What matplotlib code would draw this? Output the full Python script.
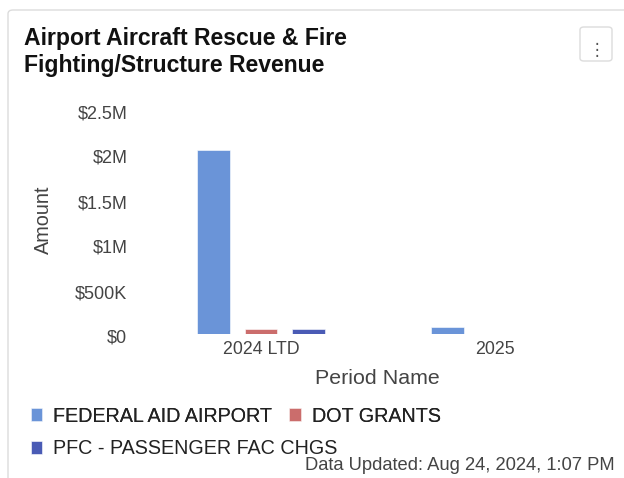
import matplotlib
matplotlib.use("Agg")
import matplotlib.pyplot as plt
import matplotlib.transforms as mtransforms
import numpy as np
from matplotlib.patches import FancyBboxPatch
from matplotlib.ticker import FuncFormatter

plt.rcParams['font.family'] = ['Liberation Sans', 'DejaVu Sans']

periods = ["2024 LTD", "2025"]
series_names = ["FEDERAL AID AIRPORT", "DOT GRANTS", "PFC - PASSENGER FAC CHGS"]
federal_aid = [2040000, 75000]
dot_grants = [52000, 0]
pfc_chgs = [52000, 0]
series_values = [federal_aid, dot_grants, pfc_chgs]
colors = ["#6a94d8", "#cb6d6c", "#4a5bb5"]
yticks = [0, 500000, 1000000, 1500000, 2000000, 2500000]
title = "Airport Aircraft Rescue & Fire\nFighting/Structure Revenue"
updated = "Data Updated: Aug 24, 2024, 1:07 PM"

W, H = 624, 478
fig = plt.figure(figsize=(W / 100, H / 100), dpi=100)

# card border
card = FancyBboxPatch((8 / W, -20 / H), 700 / W, (H - 10 + 20) / H,
                      boxstyle="round,pad=0,rounding_size=0.008",
                      transform=fig.transFigure, facecolor="white",
                      edgecolor="#dcdcdc", linewidth=1.0, zorder=-10)
fig.patches.append(card)

# menu button
btn = FancyBboxPatch((580 / W, 1 - 61 / H), 32 / W, 34 / H,
                     boxstyle="round,pad=0,rounding_size=0.006",
                     transform=fig.transFigure, facecolor="white",
                     edgecolor="#dcdcdc", linewidth=1.0, zorder=-5)
fig.patches.append(btn)
fig.text(596.5 / W, 1 - 50 / H, "⋮", ha="center", va="center", fontsize=12,
         color="#555555", family="DejaVu Sans")

fig.text(24 / W, 1 - 27 / H, title, ha="left", va="top", fontsize=16.6,
         fontweight="bold", color="#111111", linespacing=1.22)

left, right = 144 / W, 612 / W
bottom, top = 1 - 334 / H, 1 - 109 / H
ax = fig.add_axes([left, bottom, right - left, top - bottom])
ax.patch.set_alpha(0)

x = np.arange(len(periods))
width = 0.141
step = 0.2009
bars = []
for i, (name, vals, c) in enumerate(zip(series_names, series_values, colors)):
    b = ax.bar(x + (i - 1) * step, vals, width, color=c, label=name,
               edgecolor="white", linewidth=0.4)
    bars.append(b)

ax.set_xlim(-0.5, 1.5)
ax.set_ylim(0, 2500000)
ax.set_yticks(yticks)


def fmt(v, pos):
    if v == 0:
        return "$0"
    if v >= 1e6:
        s = f"{v / 1e6:g}"
        return f"${s}M"
    return f"${v / 1e3:g}K"


ax.yaxis.set_major_formatter(FuncFormatter(fmt))
ax.set_xticks(x)
ax.set_xticklabels(periods)
for s in ax.spines.values():
    s.set_visible(False)
ax.tick_params(axis="y", length=0, pad=12, labelsize=13, labelcolor="#444444")
ax.tick_params(axis="x", length=0, pad=5, labelsize=12.8, labelcolor="#444444")
offset = mtransforms.ScaledTranslation(0, -2.5 / 100, fig.dpi_scale_trans)
for lbl in ax.get_yticklabels():
    lbl.set_transform(lbl.get_transform() + offset)
ax.set_ylabel("Amount", fontsize=14.3, color="#444444", va="center")
ax.yaxis.set_label_coords(-0.215, 0.507)
ax.set_xlabel("Period Name", fontsize=15.4, color="#444444", va="center")
ax.xaxis.set_label_coords(0.499, -0.196)

leg_kw = dict(frameon=False, fontsize=14.2, handlelength=0.58,
              handleheight=0.58, handletextpad=0.55, labelcolor="#222222",
              borderpad=0, borderaxespad=0)
leg1 = fig.legend(handles=[bars[0], bars[1]], labels=series_names[:2],
                  loc="center left", bbox_to_anchor=(31 / W, 1 - 416 / H),
                  ncol=2, columnspacing=0.86, **leg_kw)
leg2 = fig.legend(handles=[bars[2]], labels=series_names[2:],
                  loc="center left", bbox_to_anchor=(31 / W, 1 - 449 / H),
                  **leg_kw)
fig.add_artist(leg1)

fig.text(615 / W, 1 - 466 / H, updated, ha="right", va="center",
         fontsize=13.2, color="#444444")

fig.savefig("out.png", dpi=100, facecolor="white")
